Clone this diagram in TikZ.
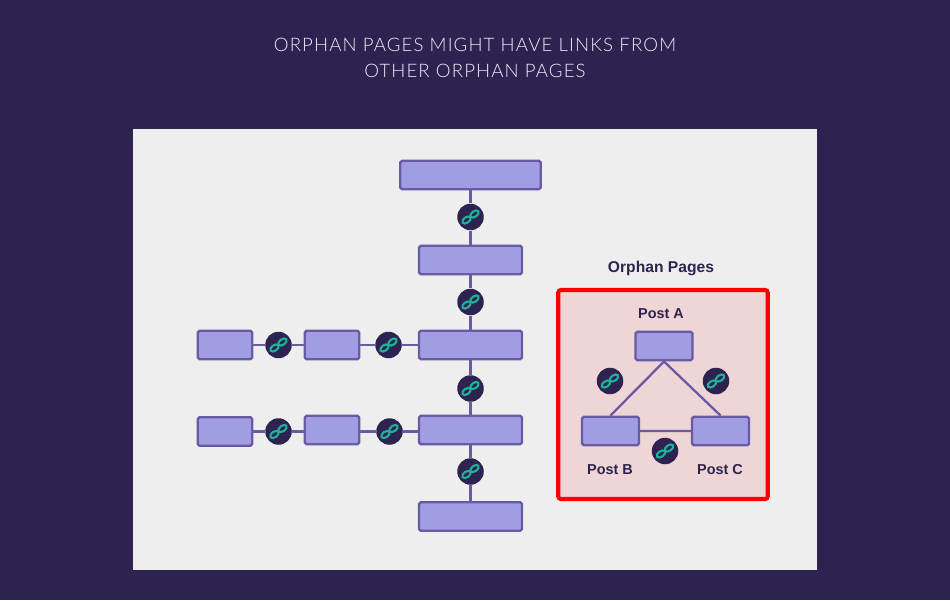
\documentclass[tikz,border=0pt]{standalone}
\usepackage{fontspec}
\setmainfont{Liberation Sans}
\newfontfamily\titlefont[UprightFont=* Light,LetterSpace=6]{Lato}
\usepackage{tikz}
\usetikzlibrary{shapes.geometric}
\definecolor{bgdark}{HTML}{2E2350}
\definecolor{panelgray}{HTML}{EEEEEE}
\definecolor{boxfill}{HTML}{A09DE4}
\definecolor{boxline}{HTML}{6A5AA3}
\definecolor{chainteal}{HTML}{1DB39A}
\definecolor{orphanfill}{HTML}{EFD5D5}
\definecolor{titlewhite}{HTML}{F0ECFA}
\tikzstyle{page} = [rectangle, rounded corners=1pt, minimum height=0.57cm, inner sep=0pt, draw=boxline, fill=boxfill, line width=1.4pt]
\tikzstyle{wide} = [page, minimum width=2.81cm]
\tikzstyle{mid} = [page, minimum width=2.06cm]
\tikzstyle{small} = [page, minimum width=1.09cm]
\tikzstyle{post} = [page, minimum width=1.14cm]
\tikzstyle{conn} = [draw=boxline, line width=1.3pt]
\tikzstyle{title} = [text=titlewhite, align=center, font=\titlefont\fontsize{10.6}{14.7}\selectfont]
\tikzstyle{tag} = [text=bgdark, font=\fontsize{8.2}{10}\selectfont\bfseries]
\tikzstyle{linkdot} = [circle, minimum size=0.53cm, inner sep=0pt, fill=bgdark, path picture={
  \draw [chainteal, line width=1.2pt]
    ([xshift=-2.3pt,yshift=-1.7pt]path picture bounding box.center) circle [x radius=2.7pt, y radius=1.6pt, rotate=35]
    ([xshift=2.3pt,yshift=1.7pt]path picture bounding box.center) circle [x radius=2.7pt, y radius=1.6pt, rotate=35];
}]

\begin{document}
\begin{tikzpicture}[node distance=1.7cm]
\useasboundingbox (0,0) rectangle (19,12);
\fill [bgdark] (0,0) rectangle (19,12);
\fill [panelgray] (2.66,0.6) rectangle (16.34,9.42);
\node (title) [title] at (9.5,10.85) {ORPHAN PAGES MIGHT HAVE LINKS FROM\\OTHER ORPHAN PAGES};

\node (top) [wide] at (9.41,8.5) {};
\node (mid1) [mid, below of=top] {};
\node (mid2) [mid, below of=mid1] {};
\node (mid3) [mid, below of=mid2] {};
\node (bottom) [mid, below of=mid3, yshift=-0.03cm] {};
\node (link1) [linkdot, below of=top, node distance=0.84cm] {};
\node (link2) [linkdot, below of=mid1, node distance=0.84cm] {};
\node (link3) [linkdot, below of=mid2, node distance=0.87cm] {};
\node (link4) [linkdot, below of=mid3, node distance=0.83cm] {};

\node (link5) [linkdot, left of=mid2, node distance=1.64cm] {};
\node (side1) [small, left of=link5, node distance=1.13cm] {};
\node (link6) [linkdot, left of=side1, node distance=1.07cm] {};
\node (side2) [small, left of=link6, node distance=1.07cm] {};
\node (link7) [linkdot, left of=mid3, node distance=1.62cm, yshift=-0.03cm] {};
\node (side3) [small, left of=link7, node distance=1.15cm, yshift=0.03cm] {};
\node (link8) [linkdot, left of=side3, node distance=1.07cm, yshift=-0.03cm] {};
\node (side4) [small, left of=link8, node distance=1.07cm] {};

\draw [conn] (top) -- (link1);
\draw [conn] (link1) -- (mid1);
\draw [conn] (mid1) -- (link2);
\draw [conn] (link2) -- (mid2);
\draw [conn] (mid2) -- (link3);
\draw [conn] (link3) -- (mid3);
\draw [conn] (mid3) -- (link4);
\draw [conn] (link4) -- (bottom);
\draw [conn] (mid2) -- (link5);
\draw [conn] (link5) -- (side1);
\draw [conn] (side1) -- (link6);
\draw [conn] (link6) -- (side2);
\draw [conn] (mid3.west |- link7) -- (link7);
\draw [conn] (link7) -- (side3.east |- link7);
\draw [conn] (side3.west |- link8) -- (link8);
\draw [conn] (link8) -- (side4);

\node (orphan) [rectangle, rounded corners=1.5pt, draw=red, fill=orphanfill, line width=2.3pt, minimum width=4.19cm, minimum height=4.18cm, inner sep=0pt] at (13.26,4.11) {};
\node (orphantag) [tag, font=\fontsize{8.9}{10}\selectfont\bfseries] at (13.22,6.64) {Orphan Pages};
\node (posta) [post] at (13.28,5.08) {};
\node (postb) [post, below of=posta, left of=posta, node distance=1.7cm, xshift=0.63cm] {};
\node (postc) [post] at (14.41,3.38) {};
\node (tagb) [tag] at (12.2,2.6) {Post B};
\node (tagc) [tag] at (14.4,2.6) {Post C};
\node (taga) [tag] at (13.22,5.72) {Post A};
\draw [conn] (posta.south) -- (postb.north);
\draw [conn] (posta.south) -- (postc.north);
\draw [conn] (postb) -- (postc);
\node (link9) [linkdot] at (12.2,4.38) {};
\node (link10) [linkdot] at (14.32,4.38) {};
\node (link11) [linkdot] at (13.3,2.98) {};
\end{tikzpicture}
\end{document}
